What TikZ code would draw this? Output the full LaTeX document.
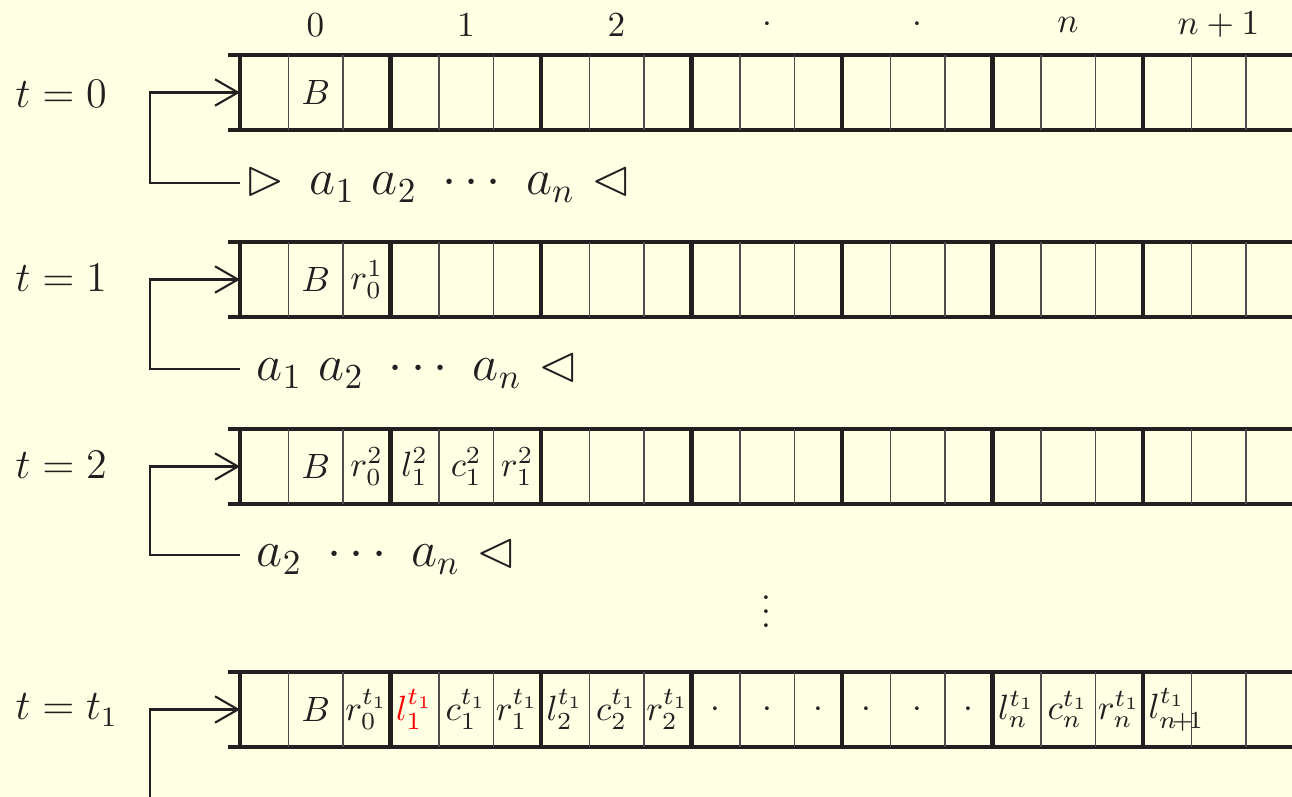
\documentclass[tikz,border=0pt]{standalone}
\usepackage{amsmath}
\usepackage{amssymb}
\usepackage{xcolor}
\usepackage{tikz}
\usetikzlibrary{arrows.meta,positioning,calc}

\definecolor{ink}{RGB}{35,31,32}
\definecolor{paper}{RGB}{255,255,228}

\begin{document}
\begin{tikzpicture}[
    tape/.style={line width=1.2pt, draw=ink},
    cellline/.style={line width=0.4pt, draw=ink!80},
    feed/.style={-{Straight Barb[length=6.5pt,width=7.5pt]}, line width=0.6pt, draw=ink},
    cell/.style={font=\normalsize, text=ink, inner sep=0pt},
    idx/.style={font=\normalsize, text=ink},
    tlabel/.style={font=\large, text=ink, anchor=base west, inner sep=0pt},
    word/.style={font=\Large, text=ink, anchor=west, inner ysep=0pt, inner xsep=1.4pt,
                 text height=8pt, text depth=1.2pt},
]
\fill[paper] (0,0) rectangle (12.92,-7.97);
\useasboundingbox (0,0) rectangle (12.92,-7.97);

% Tapes
\foreach \ty in {0.55,2.42,4.29,6.72} {
  \draw[tape] (2.28,-\ty) -- (12.92,-\ty);
  \draw[tape] (2.28,-\ty-0.75) -- (12.92,-\ty-0.75);
  \foreach \b in {0,...,6} {
    \draw[cellline] ({2.885+1.505*\b},-\ty) -- ++(0,-0.75);
    \draw[cellline] ({3.43+1.505*\b},-\ty) -- ++(0,-0.75);
    \draw[tape] ({2.40+1.505*\b},-\ty) -- ++(0,-0.75);
  }
}

% Block indices
\foreach \b/\lab in {0/0,1/1,2/2,3/\cdot,4/\cdot,5/n,6/n+1}
  \node[idx] (i\b) at ({3.155+1.505*\b},-0.25) {$\lab$};

% Times
\node[tlabel] (t0) at (0.15,-1.08) {$t=0$};
\node[tlabel] (t1) at (0.15,-2.92) {$t=1$};
\node[tlabel] (t2) at (0.15,-4.79) {$t=2$};
\node[tlabel] (t3) at (0.15,-7.20) {$t=t_1$};

% Tape heads
\coordinate (head0) at (2.40,-0.925);
\coordinate (head1) at (2.40,-2.795);
\coordinate (head2) at (2.40,-4.665);
\coordinate (head3) at (2.40,-7.095);

% Input words
\node[word] (in0) at (2.40,-1.83) {$\rhd\ \,a_1\ a_2\ \cdots\ a_n\ \lhd$};
\node[word, inner xsep=4.6pt] (in1) at (2.40,-3.69) {$a_1\ a_2\ \cdots\ a_n\ \lhd$};
\node[word, inner xsep=4.6pt] (in2) at (2.40,-5.55) {$a_2\ \cdots\ a_n\ \lhd$};
\coordinate (in3) at (1.50,-7.97);

% Arrows
\draw[feed] (in0.west) -- ++(-0.90,0) |- (head0);
\draw[feed] (in1.west) -- ++(-0.90,0) |- (head1);
\draw[feed] (in2.west) -- ++(-0.90,0) |- (head2);
\draw[feed] (in3) |- (head3);

% Cell contents
\node[cell] (b0) at (3.1575,-0.925) {$B$};

\node[cell] (b1) at (3.1575,-2.795) {$B$};
\node[cell] (r01) at (3.6675,-2.795) {$r_0^1$};

\node[cell] (b2) at (3.1575,-4.665) {$B$};
\node[cell] (r02) at (3.6675,-4.665) {$r_0^2$};
\node[cell] (l12) at (4.1475,-4.665) {$l_1^2$};
\node[cell] (c12) at (4.6625,-4.665) {$c_1^2$};
\node[cell] (r12) at (5.1725,-4.665) {$r_1^2$};

\node[cell] (b3) at (3.1575,-7.095) {$B$};
\node[cell] (r03) at (3.6675,-7.095) {$r_0^{t_1}$};
\foreach \b/\la/\lb/\lc in {1/{\color{red}l_1^{t_1}}/c_1^{t_1}/r_1^{t_1},
                           2/l_2^{t_1}/c_2^{t_1}/r_2^{t_1},
                           3/\cdot/\cdot/\cdot,
                           4/\cdot/\cdot/\cdot,
                           5/l_n^{t_1}/c_n^{t_1}/r_n^{t_1}} {
  \node[cell] (s\b a) at ({2.6425+1.505*\b},-7.095) {$\la$};
  \node[cell] (s\b b) at ({3.1575+1.505*\b},-7.095) {$\lb$};
  \node[cell] (s\b c) at ({3.6675+1.505*\b},-7.095) {$\lc$};
}
\node[cell, anchor=west] (s6a) at (11.48,-7.095) {$l_{n\!+\!1}^{t_1}$};

% Gap
\node[idx] (gap) at (7.66,-6.01) {$\vdots$};
\end{tikzpicture}
\end{document}
